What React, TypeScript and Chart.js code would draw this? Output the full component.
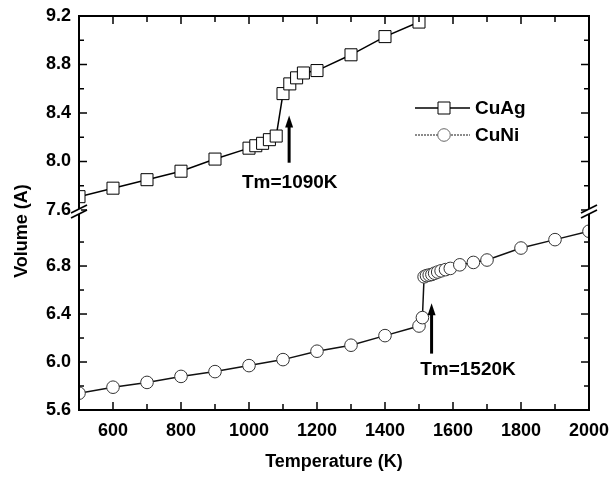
import React, { useEffect, useRef } from 'react';
import { Chart, registerables } from 'chart.js';

Chart.register(...registerables);

// ---- data ----
const cuAgT = [500, 600, 700, 800, 900, 1000, 1020, 1040, 1060, 1080, 1100, 1120, 1140, 1160, 1200, 1300, 1400, 1500];
const cuAgV = [7.71, 7.78, 7.85, 7.92, 8.02, 8.11, 8.13, 8.15, 8.18, 8.21, 8.56, 8.64, 8.69, 8.73, 8.75, 8.88, 9.03, 9.15];

const cuNiT = [500, 600, 700, 800, 900, 1000, 1100, 1200, 1300, 1400, 1500, 1510, 1515, 1522, 1530, 1538, 1546, 1555, 1565, 1578, 1592, 1620, 1660, 1700, 1800, 1900, 2000];
const cuNiV = [5.74, 5.79, 5.83, 5.88, 5.92, 5.97, 6.02, 6.09, 6.14, 6.22, 6.3, 6.37, 6.71, 6.72, 6.725, 6.73, 6.74, 6.75, 6.76, 6.77, 6.78, 6.81, 6.83, 6.85, 6.95, 7.02, 7.09];

const xTickLabels = [600, 800, 1000, 1200, 1400, 1600, 1800, 2000];
const xMinorTicks = [500, 700, 900, 1100, 1300, 1500, 1700, 1900];
const yUpperTicks = [7.6, 8.0, 8.4, 8.8, 9.2];
const yUpperMinor = [7.8, 8.2, 8.6, 9.0];
const yLowerTicks = [5.6, 6.0, 6.4, 6.8];
const yLowerMinor = [5.8, 6.2, 6.6, 7.0];

const xRange = [500, 2000];
const yUpperRange = [7.6, 9.2];
const yLowerRange = [5.6, 7.267];

const annotations = [
  { text: 'Tm=1090K', axis: 'yUp', arrowT: 1118, arrowFrom: 7.99, arrowTo: 8.38, textT: 1120, textV: 7.823 },
  { text: 'Tm=1520K', axis: 'yLow', arrowT: 1537, arrowFrom: 6.07, arrowTo: 6.49, textT: 1644, textV: 5.933 },
];

const FONT = "'Liberation Sans', Arial, sans-serif";

const decorPlugin = {
  id: 'decor',
  afterDraw(chart: any) {
    const { ctx, chartArea: ca, scales } = chart;
    const xs = scales.x, yu = scales.yUp, yl = scales.yLow;
    ctx.save();
    ctx.strokeStyle = '#000';
    ctx.fillStyle = '#000';
    // frame
    ctx.lineWidth = 2;
    ctx.strokeRect(ca.left, ca.top, ca.right - ca.left, ca.bottom - ca.top);
    // ticks
    ctx.lineWidth = 1.5;
    const line = (x0: number, y0: number, x1: number, y1: number) => {
      ctx.beginPath(); ctx.moveTo(x0, y0); ctx.lineTo(x1, y1); ctx.stroke();
    };
    const xt = (vals: number[], len: number) => vals.forEach(v => {
      const px = xs.getPixelForValue(v);
      line(px, ca.bottom, px, ca.bottom - len);
      line(px, ca.top, px, ca.top + len);
    });
    xt(xTickLabels, 8); xt(xMinorTicks, 6);
    const yt = (sc: any, vals: number[], len: number) => vals.forEach(v => {
      const py = sc.getPixelForValue(v);
      line(ca.left, py, ca.left + len, py);
      line(ca.right, py, ca.right - len, py);
    });
    yt(yu, yUpperTicks, 8); yt(yu, yUpperMinor, 5);
    yt(yl, yLowerTicks, 8); yt(yl, yLowerMinor, 5);
    // axis breaks
    const by = yu.bottom + 2;
    [ca.left, ca.right].forEach(bx => {
      ctx.fillStyle = '#fff';
      ctx.fillRect(bx - 2, by - 3, 4, 5);
      ctx.lineWidth = 1.8;
      line(bx - 8, by + 1, bx + 8, by - 7);
      line(bx - 8, by + 6, bx + 8, by - 2);
    });
    ctx.fillStyle = '#000';
    // arrows + labels
    annotations.forEach(a => {
      const sc = scales[a.axis];
      const x = xs.getPixelForValue(a.arrowT);
      const y0 = sc.getPixelForValue(a.arrowFrom);
      const y1 = sc.getPixelForValue(a.arrowTo);
      ctx.lineWidth = 3;
      line(x, y0, x, y1 + 8);
      ctx.beginPath();
      ctx.moveTo(x, y1); ctx.lineTo(x - 4, y1 + 12); ctx.lineTo(x + 4, y1 + 12); ctx.closePath(); ctx.fill();
      ctx.font = `bold 19px ${FONT}`;
      ctx.textAlign = 'center';
      ctx.textBaseline = 'middle';
      ctx.fillText(a.text, xs.getPixelForValue(a.textT), sc.getPixelForValue(a.textV));
    });
    // legend
    const lx0 = 415, lx1 = 470, lmx = 444, ltx = 475;
    const entries = [
      { label: 'CuAg', y: 108, style: 'rect', color: '#000', dash: [] as number[] },
      { label: 'CuNi', y: 135, style: 'circle', color: '#666', dash: [2, 1] },
    ];
    entries.forEach(e => {
      ctx.strokeStyle = e.color;
      ctx.lineWidth = 1.5;
      ctx.setLineDash(e.dash);
      line(lx0, e.y, lx1, e.y);
      ctx.setLineDash([]);
      ctx.fillStyle = '#fff';
      ctx.strokeStyle = e.color;
      ctx.lineWidth = 1;
      ctx.beginPath();
      if (e.style === 'rect') ctx.rect(lmx - 6, e.y - 6, 12, 12);
      else ctx.arc(lmx, e.y, 6.3, 0, Math.PI * 2);
      ctx.fill(); ctx.stroke();
      ctx.fillStyle = '#000';
      ctx.font = `bold 19px ${FONT}`;
      ctx.textAlign = 'left';
      ctx.textBaseline = 'middle';
      ctx.fillText(e.label, ltx, e.y + 1);
    });
    // y title
    ctx.save();
    ctx.translate(22, 231);
    ctx.rotate(-Math.PI / 2);
    ctx.font = `bold 18px ${FONT}`;
    ctx.textAlign = 'center';
    ctx.textBaseline = 'middle';
    ctx.fillText('Volume (A)', 0, 0);
    ctx.restore();
    ctx.restore();
  },
};

export default function App() {
  const ref = useRef<HTMLCanvasElement>(null);
  useEffect(() => {
    const tickFont = { family: FONT, weight: 'bold' as const, size: 18 };
    const yCommon = (ticks: number[]) => ({
      type: 'linear' as const,
      position: 'left' as const,
      stack: 'v',
      grid: { display: false, drawTicks: false },
      border: { display: false },
      ticks: { color: '#000', font: tickFont, padding: 8, callback: (v: any) => Number(v).toFixed(1) },
      afterBuildTicks: (s: any) => { s.ticks = ticks.map(v => ({ value: v })); },
      afterFit: (s: any) => { s.width = 79; s.paddingTop = 0; s.paddingBottom = 0; },
    });
    const chart = new Chart(ref.current!, {
      type: 'line',
      data: {
        datasets: [
          {
            label: 'CuAg',
            data: cuAgT.map((t, i) => ({ x: t, y: cuAgV[i] })),
            yAxisID: 'yUp',
            borderColor: '#000',
            borderWidth: 1.5,
            pointStyle: 'rect',
            pointRadius: 8.5,
            pointBackgroundColor: '#fff',
            pointBorderColor: '#000',
            pointBorderWidth: 1,
            tension: 0,
          },
          {
            label: 'CuNi',
            data: cuNiT.map((t, i) => ({ x: t, y: cuNiV[i] })),
            yAxisID: 'yLow',
            borderColor: '#111',
            borderWidth: 1.5,
            pointStyle: 'circle',
            pointRadius: 6.3,
            pointBackgroundColor: '#fff',
            pointBorderColor: '#333',
            pointBorderWidth: 1,
            tension: 0,
          },
        ],
      },
      options: {
        responsive: false,
        animation: false,
        devicePixelRatio: 1,
        layout: { padding: { top: 16, right: 23, left: 0, bottom: 0 } },
        plugins: { legend: { display: false }, tooltip: { enabled: false } },
        scales: {
          x: {
            type: 'linear',
            position: 'bottom',
            min: xRange[0],
            max: xRange[1],
            grid: { display: false, drawTicks: false },
            border: { display: false },
            ticks: { color: '#000', font: tickFont, padding: 10, maxRotation: 0, autoSkip: false, callback: (v: any) => String(v) },
            afterBuildTicks: (s: any) => { s.ticks = xTickLabels.map(v => ({ value: v })); },
            afterFit: (s: any) => { s.height = 67; s.paddingLeft = 0; s.paddingRight = 0; },
            title: { display: true, text: 'Temperature (K)', color: '#000', font: { family: FONT, weight: 'bold', size: 18 }, padding: { top: 0, bottom: 4 } },
          },
          yLow: { ...yCommon(yLowerTicks), min: yLowerRange[0], max: yLowerRange[1], stackWeight: 200, weight: 1 },
          yUp: { ...yCommon(yUpperTicks), min: yUpperRange[0], max: yUpperRange[1], stackWeight: 194, weight: 2 },
        },
      } as any,
      plugins: [decorPlugin],
    });
    return () => chart.destroy();
  }, []);
  return (
    <div style={{ position: 'fixed', left: 0, top: 0, width: 612, height: 477, background: '#fff' }}>
      <canvas ref={ref} width={612} height={477} style={{ display: 'block', width: 612, height: 477 }} />
    </div>
  );
}
